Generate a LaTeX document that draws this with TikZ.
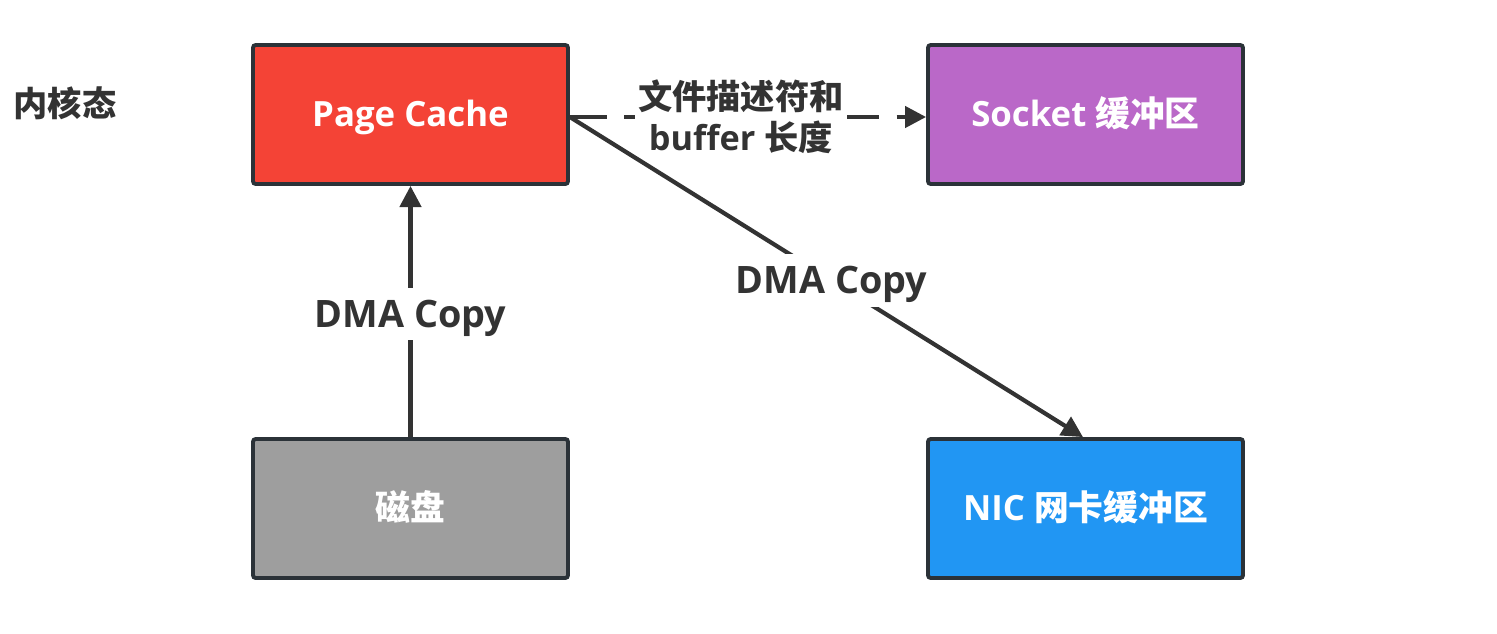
\documentclass[tikz,border=0pt]{standalone}
\usepackage{fontspec}
\setmainfont{Open Sans}
\newfontfamily\cjk{Noto Sans CJK SC}
\usetikzlibrary{arrows.meta}
\definecolor{txt}{HTML}{333333}
\definecolor{bord}{HTML}{2B3238}
\definecolor{cred}{HTML}{F44336}
\definecolor{cpurple}{HTML}{BA68C8}
\definecolor{cgray}{HTML}{9E9E9E}
\definecolor{cblue}{HTML}{2196F3}
\tikzset{
  box/.style={draw=bord, line width=2.2pt, rounded corners=1.5pt, minimum width=6.3cm, minimum height=2.78cm, text=white, font=\fontsize{19.8}{23}\selectfont\bfseries, inner sep=0pt, text height=19pt, text depth=4.9pt},
  conn/.style={draw=txt, line width=2.4pt, -{Triangle[length=12pt,width=12pt]}},
  lbl/.style={fill=white, text=txt, font=\fontsize{19.5}{23.5}\selectfont\bfseries, inner sep=2pt, align=center},
  dlbl/.style={fill=white, text=txt, font=\fontsize{21.5}{25}\selectfont\bfseries, inner sep=2pt, text height=20.6pt, text depth=5.3pt}
}
\begin{document}
\begin{tikzpicture}[x=0.02cm,y=-0.02cm]
\useasboundingbox (0,0) rectangle (1497,633);
\node[text=txt, font=\cjk\fontsize{19.5}{23}\selectfont\bfseries] (kernel) at (65,103) {内核态};
\node[box, fill=cred] (pc) at (410.5,114.5) {Page Cache};
\node[box, fill=cpurple] (sock) at (1085.5,114.5) {Socket {\cjk 缓冲区}};
\node[box, fill=cgray] (disk) at (410.5,508.5) {{\cjk 磁盘}};
\node[box, fill=cblue] (nic) at (1085.5,508.5) {NIC {\cjk 网卡缓冲区}};
\draw[conn] (disk.north) -- node[dlbl, pos=0.49] {DMA Copy} (pc.south);
\draw[conn, dash pattern=on 21pt off 10pt] ([yshift=-0.05cm]pc.east) -- node[lbl, pos=0.48] {{\cjk 文件描述符和}\\buffer {\cjk 长度}} ([yshift=-0.05cm]sock.west);
\draw[conn] ([yshift=-0.05cm]pc.east) -- node[dlbl, pos=0.51] {DMA Copy} ([xshift=-0.05cm]nic.north);
\end{tikzpicture}
\end{document}
